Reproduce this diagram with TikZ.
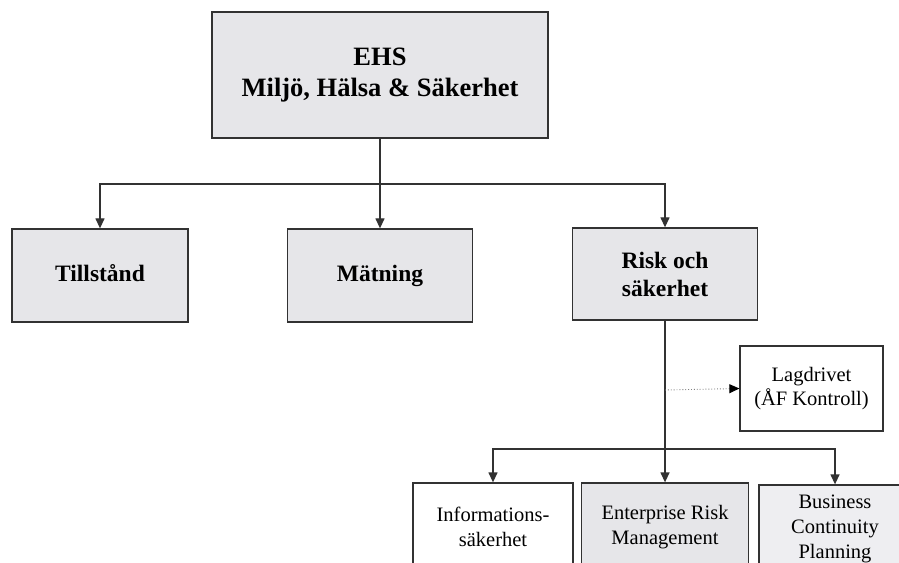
\documentclass[tikz,border=0pt]{standalone}
\usepackage{fontspec}
\setmainfont{Liberation Serif}
\usetikzlibrary{arrows.meta}
\definecolor{boxgray}{RGB}{230,230,233}
\definecolor{boxpale}{RGB}{238,238,241}
\definecolor{edge}{RGB}{50,50,50}
\tikzset{
  box/.style={draw=edge, line width=1.3bp, align=center, inner sep=0pt,
    text=black, minimum width=#1},
  mainbox/.style={box=#1, fill=boxgray, font=\fontsize{23.5bp}{28bp}\selectfont\bfseries},
  oneline/.style={text height=16bp, text depth=5bp},
  subbox/.style={box=#1, font=\fontsize{20.5bp}{24.8bp}\selectfont},
  link/.style={draw=edge, line width=1.3bp},
  arr/.style={link, -{Triangle[length=10bp,width=9bp]}},
  dotarr/.style={draw=gray, line width=0.9bp, dotted,
    -{Triangle[length=10bp,width=9bp,color=black]}}
}
\begin{document}
\begin{tikzpicture}[x=1bp,y=-1bp]
\clip (0,0) rectangle (899,563);
\useasboundingbox (0,0) rectangle (899,563);
\fill[white] (0,0) rectangle (899,563);

% top level
\node[mainbox=336bp, minimum height=126bp,
  font=\fontsize{26.5bp}{31bp}\selectfont\bfseries] (ehs) at (380,75)
  {EHS\\Miljö, Hälsa \& Säkerhet};

% second level
\node[mainbox=176bp, minimum height=93bp, oneline] (till) at (100,275.5) {Tillstånd};
\node[mainbox=185bp, minimum height=93bp, oneline] (mat) at (380,275.5) {Mätning};
\node[mainbox=185bp, minimum height=92bp] (risk) at (665,274) {Risk och\\säkerhet};

% side box
\node[subbox=143bp, minimum height=85bp, fill=white] (lag) at (811.5,388.5)
  {Lagdrivet\\(ÅF Kontroll)};

% third level
\node[subbox=160bp, minimum height=88bp, fill=white] (info) at (493,527)
  {Informations-\\säkerhet};
\node[subbox=167bp, minimum height=88bp, fill=boxgray] (erm) at (665,527)
  {Enterprise Risk\\Management};
\node[subbox=152bp, minimum height=88bp, fill=boxpale] (bcp) at (835,529)
  {Business\\Continuity\\Planning};

% junctions
\coordinate (bus) at (380,184);
\coordinate (bus2) at (665,449);
\coordinate (tap) at (665,390);

% connectors
\draw[arr] (ehs.south) -- (mat.north);
\draw[arr] (bus) -| (till.north);
\draw[arr] (bus) -| (risk.north);
\draw[arr] (risk.south) -- (erm.north);
\draw[arr] (bus2) -| (info.north);
\draw[arr] (bus2) -| (bcp.north);
\draw[dotarr] (tap) -- (lag.west);
\end{tikzpicture}
\end{document}
